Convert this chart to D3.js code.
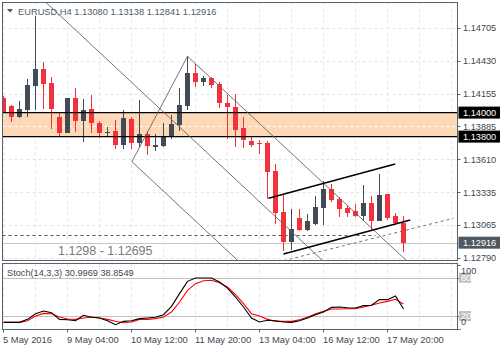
<!DOCTYPE html>
<html><head><meta charset="utf-8">
<script src="https://cdn.jsdelivr.net/npm/d3@7"></script>
<style>
body{margin:0;background:#fff}
svg{display:block}
text{font-family:"Liberation Sans",Arial,sans-serif}
</style>
</head><body>
<svg id="c" width="500" height="350"></svg>
<script>
// ---------- data ----------
const symbol = "EURUSD,H4";
const lastOHLC = ["1.13080", "1.13138", "1.12841", "1.12916"];
const opens  = [1.14124,1.14055,1.13961,1.14022,1.14222,1.14361,1.14244,1.13966,1.13833,1.14119,
                1.13933,1.14028,1.13916,1.13834,1.13849,1.13730,1.13944,1.13744,1.13822,1.13726,
                1.13722,1.13799,1.13897,1.14055,1.14333,1.14258,1.14288,1.14238,1.14080,1.14049,
                1.13869,1.13766,1.13747,1.13744,1.13513,1.13169,1.12924,1.13122,1.13022,1.13072,
                1.13208,1.13363,1.13278,1.13208,1.13183,1.13138,1.13247,1.13099,1.13322,1.13138,
                1.13080];
const highs  = [1.14138,1.14066,1.14097,1.14278,1.14805,1.14424,1.14294,1.14008,1.14122,1.14203,
                1.14111,1.14147,1.13933,1.13876,1.13938,1.14022,1.13961,1.14101,1.13847,1.13822,
                1.13913,1.13980,1.14201,1.14469,1.14401,1.14301,1.14299,1.14258,1.14149,1.14151,
                1.13963,1.13794,1.13768,1.13763,1.13569,1.13322,1.13199,1.13199,1.13151,1.13301,
                1.13428,1.13408,1.13294,1.13222,1.13238,1.13397,1.13305,1.13488,1.13322,1.13163,
                1.13138];
const lows   = [1.13997,1.13924,1.13953,1.13966,1.14022,1.14030,1.13861,1.13799,1.13830,1.13841,
                1.13751,1.13828,1.13786,1.13793,1.13697,1.13694,1.13697,1.13713,1.13647,1.13683,
                1.13713,1.13780,1.13847,1.14024,1.14216,1.14222,1.14207,1.14036,1.13778,1.13713,
                1.13703,1.13716,1.13658,1.13283,1.13070,1.12847,1.12855,1.13016,1.13016,1.13063,
                1.13063,1.13255,1.13126,1.13128,1.13130,1.13093,1.13013,1.13097,1.13105,1.13063,
                1.12841];
const closes = [1.14008,1.13966,1.14030,1.14230,1.14361,1.14238,1.14028,1.13833,1.14119,1.13933,
                1.14022,1.13911,1.13828,1.13840,1.13730,1.13953,1.13744,1.13822,1.13718,1.13730,
                1.13805,1.13905,1.14063,1.14333,1.14258,1.14290,1.14233,1.14078,1.14043,1.13859,
                1.13768,1.13733,1.13741,1.13508,1.13163,1.12924,1.13028,1.13022,1.13097,1.13213,
                1.13363,1.13272,1.13194,1.13166,1.13141,1.13249,1.13098,1.13313,1.13119,1.13078,
                1.12916];
const stochK = [10.1,10.1,10.1,14.8,23.7,27.9,25.3,14.8,14.3,12.7,21.1,18.0,16.9,12.7,6.5,11.7,12.7,15.9,16.9,18.0,
                22.1,35.2,55.1,74.4,79.6,79.6,79.6,73.3,63.9,49.8,34.2,16.9,10.6,13.3,12.7,10.6,10.1,12.7,16.9,22.1,
                26.3,33.6,34.2,33.1,32.6,36.3,36.8,45.7,45.7,51.4,31.0];
const stochD = [10.1,10.1,10.1,12.7,20.1,24.2,23.7,18.5,15.3,14.8,16.9,18.5,16.9,14.8,11.7,9.6,10.6,14.8,14.8,15.9,
                18.5,26.3,42.0,60.3,70.7,75.4,76.0,72.3,65.5,53.5,39.4,23.7,20.1,14.8,11.7,11.7,11.7,14.3,18.0,23.7,
                27.4,31.0,31.0,31.5,31.5,34.2,36.8,40.4,43.0,46.2,38.9];
const stochLabel = "Stoch(14,3,3) 30.9969 38.8549";
const priceTicks = [1.14705, 1.14430, 1.14155, 1.13885, 1.13610, 1.13335, 1.13065, 1.12790];
const timeLabels = ["5 May 2016", "9 May 04:00", "10 May 12:00", "11 May 20:00", "13 May 04:00", "16 May 12:00", "17 May 20:00"];
const timeLabelBars = [0, 8, 16, 24, 32, 40, 48];
const stochLevels = [80, 20];
const stochAxisLabels = [100, 80, 20, 0];
const zoneLevels = [1.14000, 1.13800];
const zoneMid = 1.13885;
const bidPrice = 1.12916;
const levelPrice = 1.1298;
const levelEndBar = 46.5;
const levelLabel = "1.1298 - 1.12695";
// thin grey trend lines [bar, price] pairs
const greyLines = [
  [[3, 1.15062], [41, 1.12698]],
  [[16.05, 1.13591], [23, 1.14469]],
  [[16.05, 1.13591], [31, 1.12661]],
  [[23, 1.14469], [52, 1.12665]]
];
// black rising channel
const channelLines = [
  [[33.125, 1.13286], [48.96, 1.13572]],
  [[35, 1.12822], [50.84, 1.13105]]
];
const dashedChannel = [[35, 1.12766], [56.25, 1.13119]];

// ---------- layout ----------
const W = 500, H = 350;
const mainBox = {l: 2.5, r: 457.5, t: 2.5, b: 260.5};
const stBox = {l: 2.5, r: 457.5, t: 263.5, b: 329.5};
const bullC = "#404b57", bearC = "#f2313c", frameC = "#58626c";
const textC = "#3d4751";

const svg = d3.select("#c");
const x = d3.scaleLinear().domain([0, 50]).range([3.5, 403.5]);
const y = d3.scaleLinear().domain([1.14705, 1.12790]).range([28, 257.8]);
const ys = d3.scaleLinear().domain([0, 100]).range([328.8, 265]);

const defs = svg.append("defs");
defs.append("clipPath").attr("id", "mclip").append("rect")
  .attr("x", mainBox.l).attr("y", mainBox.t).attr("width", mainBox.r - mainBox.l).attr("height", mainBox.b - mainBox.t);
defs.append("clipPath").attr("id", "sclip").append("rect")
  .attr("x", stBox.l).attr("y", stBox.t).attr("width", stBox.r - stBox.l).attr("height", stBox.b - stBox.t);

const gridBars = d3.range(0, 57, 4);

// ---------- main panel ----------
const main = svg.append("g").attr("clip-path", "url(#mclip)");
// grid
main.append("g").selectAll("line").data(gridBars).join("line")
  .attr("x1", d => Math.round(x(d)) - 0.5).attr("x2", d => Math.round(x(d)) - 0.5)
  .attr("y1", mainBox.t).attr("y2", mainBox.b)
  .attr("stroke", "#e4e4e4").attr("stroke-dasharray", "3,3");
main.append("g").selectAll("line").data(priceTicks).join("line")
  .attr("x1", mainBox.l).attr("x2", mainBox.r)
  .attr("y1", d => Math.round(y(d)) + 0.5).attr("y2", d => Math.round(y(d)) + 0.5)
  .attr("stroke", "#e4e4e4").attr("stroke-dasharray", "3,3");

// zone
main.append("rect")
  .attr("x", mainBox.l).attr("width", mainBox.r - mainBox.l)
  .attr("y", y(zoneLevels[0])).attr("height", y(zoneLevels[1]) - y(zoneLevels[0]))
  .attr("fill", "#fdd9b7");
main.append("line")
  .attr("x1", mainBox.l).attr("x2", mainBox.r)
  .attr("y1", Math.round(y(zoneMid)) + 0.5).attr("y2", Math.round(y(zoneMid)) + 0.5)
  .attr("stroke", "#ffffff").attr("stroke-dasharray", "3,3");

// bid line
main.append("line")
  .attr("x1", mainBox.l).attr("x2", mainBox.r)
  .attr("y1", Math.round(y(bidPrice)) + 0.5).attr("y2", Math.round(y(bidPrice)) + 0.5)
  .attr("stroke", "#c8c8c8");

// horizontal dashed level
main.append("line")
  .attr("x1", mainBox.l).attr("x2", x(levelEndBar))
  .attr("y1", Math.round(y(levelPrice)) + 0.5).attr("y2", Math.round(y(levelPrice)) + 0.5)
  .attr("stroke", "#555").attr("stroke-dasharray", "3,3");
main.append("text")
  .attr("x", 58).attr("y", y(levelPrice) + 20)
  .attr("font-size", 12.5).attr("fill", "#7a7a7a").text(levelLabel);

// candles
const bars = opens.map((o, i) => ({i, o, h: highs[i], l: lows[i], c: closes[i]}));
const cg = main.append("g").attr("shape-rendering", "crispEdges");
cg.selectAll("line").data(bars).join("line")
  .attr("x1", d => x(d.i)).attr("x2", d => x(d.i))
  .attr("y1", d => y(d.h)).attr("y2", d => y(d.l))
  .attr("stroke", d => d.c >= d.o ? bullC : bearC);
cg.selectAll("rect").data(bars).join("rect")
  .attr("x", d => x(d.i) - 2.5).attr("width", 5)
  .attr("y", d => y(Math.max(d.o, d.c)))
  .attr("height", d => Math.max(1.5, Math.abs(y(d.o) - y(d.c))))
  .attr("fill", d => d.c >= d.o ? bullC : bearC);

// zone borders
main.append("g").selectAll("line").data(zoneLevels).join("line")
  .attr("x1", mainBox.l).attr("x2", mainBox.r)
  .attr("y1", d => y(d)).attr("y2", d => y(d))
  .attr("stroke", "#000").attr("stroke-width", 1.3);

// trend lines
const lineGen = d3.line().x(d => x(d[0])).y(d => y(d[1]));
main.append("g").selectAll("path").data(greyLines).join("path")
  .attr("d", lineGen).attr("fill", "none").attr("stroke", "#666").attr("stroke-width", 0.9);
main.append("path").attr("d", lineGen(dashedChannel))
  .attr("fill", "none").attr("stroke", "#777").attr("stroke-dasharray", "3,3");
main.append("g").selectAll("path").data(channelLines).join("path")
  .attr("d", lineGen).attr("fill", "none").attr("stroke", "#000").attr("stroke-width", 1.4);

// title
svg.append("path").attr("d", "M7,9 L13,9 L10,12.5 Z").attr("fill", "#4a5562");
svg.append("text").attr("x", 18).attr("y", 14.5).attr("font-size", 9.3).attr("fill", "#505c68")
  .text(symbol + "  " + lastOHLC.join(" "));

// frame
svg.append("rect").attr("x", mainBox.l).attr("y", mainBox.t)
  .attr("width", mainBox.r - mainBox.l).attr("height", mainBox.b - mainBox.t)
  .attr("fill", "none").attr("stroke", frameC);

// price axis
const pa = svg.append("g");
pa.selectAll("line").data(priceTicks).join("line")
  .attr("x1", mainBox.r).attr("x2", mainBox.r + 3)
  .attr("y1", d => Math.round(y(d)) + 0.5).attr("y2", d => Math.round(y(d)) + 0.5)
  .attr("stroke", frameC);
pa.selectAll("text").data(priceTicks).join("text")
  .attr("x", 463).attr("y", d => y(d) + 3.3)
  .attr("font-size", 9.2).attr("fill", textC)
  .text(d => d.toFixed(5));

// tagged labels (zone levels, bid)
const tags = [
  {v: zoneLevels[0], bg: "#000"},
  {v: zoneLevels[1], bg: "#000"},
  {v: bidPrice, bg: "#4e5861"}
];
const tg = svg.append("g").selectAll("g").data(tags).join("g");
tg.append("rect").attr("x", 458.5).attr("y", d => y(d.v) - 6).attr("width", 41.5).attr("height", 12).attr("fill", d => d.bg);
tg.append("text").attr("x", 463).attr("y", d => y(d.v) + 3.3)
  .attr("font-size", 9.2).attr("fill", "#fff").text(d => d.v.toFixed(5));

// ---------- stochastic panel ----------
const st = svg.append("g").attr("clip-path", "url(#sclip)");
st.append("g").selectAll("line").data(gridBars).join("line")
  .attr("x1", d => Math.round(x(d)) - 0.5).attr("x2", d => Math.round(x(d)) - 0.5)
  .attr("y1", stBox.t).attr("y2", stBox.b)
  .attr("stroke", "#e4e4e4").attr("stroke-dasharray", "3,3");
st.append("g").selectAll("line").data(stochLevels).join("line")
  .attr("x1", stBox.l).attr("x2", stBox.r)
  .attr("y1", d => Math.round(ys(d)) + 0.5).attr("y2", d => Math.round(ys(d)) + 0.5)
  .attr("stroke", "#c0c0c0");
const sLine = d3.line().x((d, i) => x(i)).y(d => ys(d));
st.append("path").attr("d", sLine(stochD)).attr("fill", "none").attr("stroke", "#ff0000").attr("stroke-width", 1.1);
st.append("path").attr("d", sLine(stochK)).attr("fill", "none").attr("stroke", "#000").attr("stroke-width", 1.1);
svg.append("text").attr("x", 7).attr("y", 276).attr("font-size", 9.2).attr("fill", textC).text(stochLabel);
svg.append("rect").attr("x", stBox.l).attr("y", stBox.t)
  .attr("width", stBox.r - stBox.l).attr("height", stBox.b - stBox.t)
  .attr("fill", "none").attr("stroke", frameC);

// stoch axis
const sa = svg.append("g");
sa.selectAll("line").data(stochAxisLabels).join("line")
  .attr("x1", stBox.r).attr("x2", stBox.r + 3)
  .attr("y1", d => Math.round(ys(d)) + 0.5).attr("y2", d => Math.round(ys(d)) + 0.5)
  .attr("stroke", frameC);
sa.selectAll("rect").data(stochLevels).join("rect")
  .attr("x", 459).attr("y", d => ys(d) - 5).attr("width", 12).attr("height", 10).attr("fill", "#c0c0c0");
sa.selectAll("text").data(stochAxisLabels).join("text")
  .attr("x", 461).attr("y", d => d === 100 ? ys(d) + 8.5 : d === 0 ? ys(d) - 3.5 : ys(d) + 3.3)
  .attr("font-size", 9.2)
  .attr("fill", d => stochLevels.includes(d) ? "#fff" : textC)
  .text(d => d);

// time axis
const ta = svg.append("g");
ta.selectAll("line").data(timeLabelBars).join("line")
  .attr("x1", d => Math.round(x(d)) - 0.5).attr("x2", d => Math.round(x(d)) - 0.5)
  .attr("y1", stBox.b).attr("y2", stBox.b + 3)
  .attr("stroke", frameC);
ta.selectAll("text").data(timeLabelBars).join("text")
  .attr("x", d => x(d) - 0.5).attr("y", 342.5)
  .attr("font-size", 9.4).attr("fill", textC)
  .text((d, i) => timeLabels[i]);
</script>
</body></html>
